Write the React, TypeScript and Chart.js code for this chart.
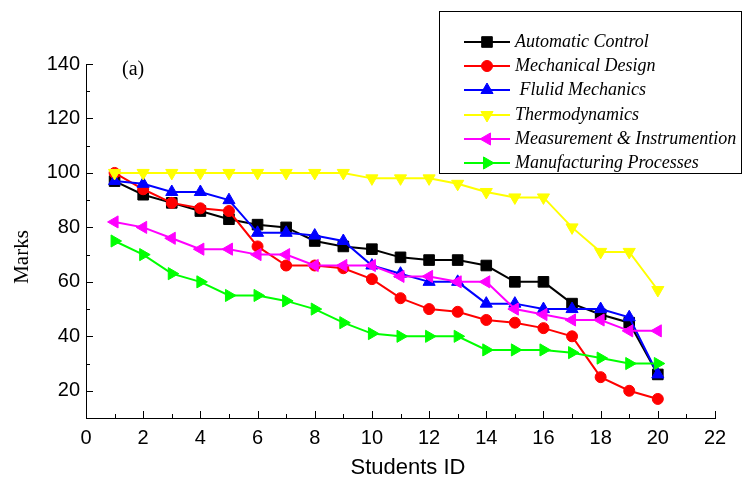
import React, { useEffect, useRef } from "react";
import { Chart, registerables } from "chart.js";

Chart.register(...registerables);

const studentIds = [1, 2, 3, 4, 5, 6, 7, 8, 9, 10, 11, 12, 13, 14, 15, 16, 17, 18, 19, 20];
const automaticControl = [97, 92, 89, 86, 83, 81, 80, 75, 73, 72, 69, 68, 68, 66, 60, 60, 52, 48, 45, 26];
const mechanicalDesign = [100, 94, 89, 87, 86, 73, 66, 66, 65, 61, 54, 50, 49, 46, 45, 43, 40, 25, 20, 17];
const fluidMechanics = [97, 96, 93, 93, 90, 78, 78, 77, 75, 66, 63, 60, 60, 52, 52, 50, 50, 50, 47, 26];
const thermodynamics = [100, 100, 100, 100, 100, 100, 100, 100, 100, 98, 98, 98, 96, 93, 91, 91, 80, 71, 71, 57];
const measurement = [82, 80, 76, 72, 72, 70, 70, 66, 66, 66, 62, 62, 60, 60, 50, 48, 46, 46, 42, 42];
const manufacturing = [75, 70, 63, 60, 55, 55, 53, 50, 45, 41, 40, 40, 40, 35, 35, 35, 34, 32, 30, 30];

const seriesNames = [
  "Automatic Control",
  "Mechanical Design",
  " Flulid Mechanics",
  "Thermodynamics",
  "Measurement & Instrumention",
  "Manufacturing Processes",
];
const xTickValues = [0, 2, 4, 6, 8, 10, 12, 14, 16, 18, 20, 22];
const yTickValues = [20, 40, 60, 80, 100, 120, 140];

const SANS = "'Liberation Sans', Arial, sans-serif";
const SERIF = "'Liberation Serif', 'Times New Roman', serif";

const styles = [
  { color: "#000000", pointStyle: "rect", rotation: 0, radius: 7.5 },
  { color: "#ff0000", pointStyle: "circle", rotation: 0, radius: 5.5 },
  { color: "#0000ff", pointStyle: "triangle", rotation: 0, radius: 7 },
  { color: "#ffff00", pointStyle: "triangle", rotation: 180, radius: 7 },
  { color: "#ff00ff", pointStyle: "triangle", rotation: 270, radius: 7 },
  { color: "#00ff00", pointStyle: "triangle", rotation: 90, radius: 7 },
];

function drawMarker(ctx: CanvasRenderingContext2D, style: string, radius: number, rotationDeg: number, x: number, y: number) {
  ctx.save();
  ctx.translate(x, y);
  ctx.rotate((rotationDeg * Math.PI) / 180);
  ctx.beginPath();
  if (style === "rect") {
    const s = Math.SQRT1_2 * radius;
    ctx.rect(-s, -s, 2 * s, 2 * s);
  } else if (style === "circle") {
    ctx.arc(0, 0, radius, 0, Math.PI * 2);
  } else {
    const r = radius;
    ctx.moveTo(0, -r);
    const r2 = (2 * Math.PI) / 3;
    ctx.lineTo(Math.sin(r2) * r, -Math.cos(r2) * r);
    const r3 = (4 * Math.PI) / 3;
    ctx.lineTo(Math.sin(r3) * r, -Math.cos(r3) * r);
    ctx.closePath();
  }
  ctx.fill();
  ctx.stroke();
  ctx.restore();
}

const extrasPlugin = {
  id: "extras",
  afterDraw(chart: any) {
    const ctx = chart.ctx;
    const xs = chart.scales.x;
    const ys = chart.scales.y;
    const area = chart.chartArea;
    ctx.save();
    ctx.strokeStyle = "#000";
    ctx.lineWidth = 1;
    for (let v = 0; v <= 22; v++) {
      const px = Math.round(xs.getPixelForValue(v)) + 0.5;
      const len = v % 2 === 0 ? 7 : 4;
      ctx.beginPath();
      ctx.moveTo(px, area.bottom);
      ctx.lineTo(px, area.bottom - len);
      ctx.stroke();
    }
    for (let v = 10; v <= 140; v += 10) {
      const py = Math.round(ys.getPixelForValue(v)) + 0.5;
      const len = v % 20 === 0 ? 7 : 4;
      ctx.beginPath();
      ctx.moveTo(area.left, py);
      ctx.lineTo(area.left + len, py);
      ctx.stroke();
    }
    ctx.fillStyle = "#000";
    ctx.textAlign = "center";
    ctx.textBaseline = "middle";
    ctx.font = `22px ${SANS}`;
    ctx.fillText("Students ID", 408, 468);
    ctx.save();
    ctx.translate(22, 257);
    ctx.rotate(-Math.PI / 2);
    ctx.font = `21px ${SERIF}`;
    ctx.fillText("Marks", 0, 0);
    ctx.restore();
    ctx.font = `20px ${SERIF}`;
    ctx.textAlign = "left";
    ctx.fillText("(a)", 122, 70);

    ctx.fillStyle = "#fff";
    ctx.fillRect(439.5, 11.5, 302, 162);
    ctx.strokeStyle = "#000";
    ctx.lineWidth = 1;
    ctx.strokeRect(439.5, 11.5, 302, 162);
    const rowY = [42, 66, 90, 115, 139, 163];
    chart.data.datasets.forEach((ds: any, i: number) => {
      const st = styles[i];
      const y = rowY[i];
      ctx.strokeStyle = st.color;
      ctx.lineWidth = 2;
      ctx.beginPath();
      ctx.moveTo(464, y);
      ctx.lineTo(510, y);
      ctx.stroke();
      ctx.fillStyle = st.color;
      ctx.strokeStyle = st.color;
      ctx.lineWidth = 1;
      drawMarker(ctx, st.pointStyle, st.radius, st.rotation, 487, y);
      ctx.fillStyle = "#000";
      ctx.font = `italic 18px ${SERIF}`;
      ctx.textAlign = "left";
      ctx.textBaseline = "middle";
      ctx.fillText(ds.label, 515, y);
    });
    ctx.restore();
  },
};

export default function App() {
  const ref = useRef<HTMLCanvasElement>(null);
  useEffect(() => {
    const allSeries = [automaticControl, mechanicalDesign, fluidMechanics, thermodynamics, measurement, manufacturing];
    const datasets = allSeries.map((vals, i) => ({
      label: seriesNames[i],
      data: vals.map((v, j) => ({ x: studentIds[j], y: v })),
      borderColor: styles[i].color,
      backgroundColor: styles[i].color,
      pointBackgroundColor: styles[i].color,
      pointBorderColor: styles[i].color,
      pointStyle: styles[i].pointStyle,
      pointRotation: styles[i].rotation,
      pointRadius: styles[i].radius,
      pointBorderWidth: 1,
      borderWidth: 2,
      tension: 0,
      order: 6 - i,
    }));
    const chart = new Chart(ref.current!, {
      type: "line",
      data: { datasets },
      plugins: [extrasPlugin],
      options: {
        animation: false,
        responsive: false,
        devicePixelRatio: 1,
        layout: { padding: { left: 0, top: 64, right: 27, bottom: 0 } },
        plugins: { legend: { display: false }, tooltip: { enabled: false } },
        scales: {
          x: {
            type: "linear",
            min: 0,
            max: 22,
            afterBuildTicks: (s: any) => {
              s.ticks = xTickValues.map((v) => ({ value: v }));
            },
            afterFit: (s: any) => {
              s.height = 64;
            },
            grid: { display: false, drawTicks: false },
            border: { display: true, color: "#000", width: 1 },
            ticks: { color: "#000", font: { family: SANS, size: 20 }, padding: 8, maxRotation: 0, autoSkip: false },
          },
          y: {
            type: "linear",
            min: 10,
            max: 140,
            afterBuildTicks: (s: any) => {
              s.ticks = yTickValues.map((v) => ({ value: v }));
            },
            afterFit: (s: any) => {
              s.width = 86;
            },
            grid: { display: false, drawTicks: false },
            border: { display: true, color: "#000", width: 1 },
            ticks: { color: "#000", font: { family: SANS, size: 20 }, padding: 6, autoSkip: false },
          },
        },
      } as any,
    });
    return () => chart.destroy();
  }, []);
  return (
    <div style={{ position: "absolute", left: 0, top: 0, width: 742, height: 482, background: "#fff" }}>
      <canvas ref={ref} width={742} height={482} style={{ width: 742, height: 482 }} />
    </div>
  );
}
